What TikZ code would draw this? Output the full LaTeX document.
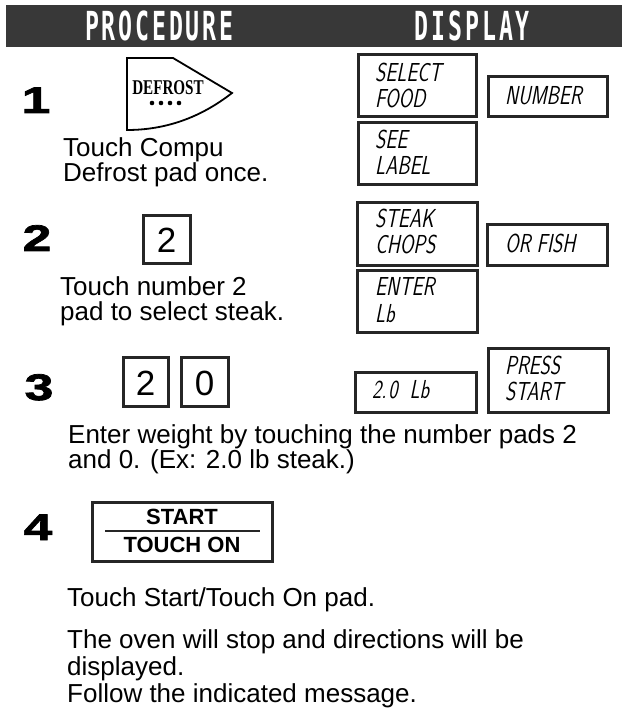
\documentclass[tikz,border=0pt]{standalone}
\usepackage{fontspec}
\setmainfont{Liberation Sans}
\newfontfamily\hdrfont[FakeStretch=0.58]{DejaVu Sans Mono}
\newfontfamily\numfont[FakeStretch=1.4,FakeBold=2]{Liberation Sans}
\newfontfamily\padserif[FakeStretch=0.72]{Liberation Serif}
\newfontfamily\lcdfont[FakeStretch=0.75,FakeSlant=0.2]{Latin Modern Sans}
\begin{document}
\begin{tikzpicture}[x=1pt,y=-1pt,
  hdr/.style={anchor=base,inner sep=0pt,text=white,font=\hdrfont\bfseries\fontsize{40}{40}\selectfont},
  stepnum/.style={anchor=base,inner sep=0pt,font=\numfont\bfseries\fontsize{37}{37}\selectfont},
  body/.style={anchor=base west,inner sep=0pt,font=\fontsize{26}{25}\selectfont},
  lcdbox/.style={draw=black!85,line width=3pt},
  lcdtxt/.style={anchor=base west,inner sep=0pt,font=\lcdfont\fontsize{26}{26}\selectfont},
  padbox/.style={draw=black!85,line width=3pt},
  paddigit/.style={anchor=base,inner sep=0pt,font=\fontsize{35}{35}\selectfont},
  startfont/.style={anchor=base,inner sep=0pt,font=\bfseries\fontsize{22}{22}\selectfont}
]
\useasboundingbox (0,0) rectangle (622,708);
\fill[white] (0,0) rectangle (622,708);
% header
\fill[black!78] (6,5) rectangle (622,47);
\foreach \c [count=\i] in {P,R,O,C,E,D,U,R,E}
  \node[hdr] (hp\i) at ({92+(\i-1)*16.8},41) {\c};
\foreach \c [count=\i] in {D,I,S,P,L,A,Y}
  \node[hdr] (hd\i) at ({421.5+(\i-1)*16.9},41) {\c};

% step numbers
\node[stepnum] (n1) at (36,113) {1};
\node[stepnum] (n2) at (37,251) {2};
\node[stepnum] (n3) at (39,400) {3};
\node[stepnum] (n4) at (38,540) {4};

% step 1 pad
\draw[line width=1.8pt,line join=miter] (127,58) -- (173,58) -- (232,93)
   .. controls (200,118) and (165,130) .. (127,130) -- cycle;
\node[anchor=base,inner sep=0pt,font=\padserif\bfseries\fontsize{21}{21}\selectfont] (defrost) at (168,95) {DEFROST};
\foreach \i in {0,1,2,3} \fill (152+\i*9,103) circle (2.3);
\node[body] (t1a) at (63,157) {Touch Compu};
\node[body] (t1b) at (63,182) {Defrost pad once.};

% step 1 display
\draw[lcdbox] (358,55) rectangle (476,117);
\node[lcdtxt] (d1a) at (375,82) {SELECT};
\node[lcdtxt] (d1b) at (375,108) {FOOD};
\draw[lcdbox] (488,77) rectangle (607,117);
\node[lcdtxt] (d2) at (505,105) {NUMBER};
\draw[lcdbox] (358,123) rectangle (476,185);
\node[lcdtxt] (d3a) at (375,149) {SEE};
\node[lcdtxt] (d3b) at (375,175) {LABEL};

% step 2
\draw[padbox] (143,216) rectangle (190,263);
\node[paddigit] (p2) at (166.5,252) {2};
\node[body] (t2a) at (60,295) {Touch number 2};
\node[body] (t2b) at (60,320) {pad to select steak.};
\draw[lcdbox] (357,203) rectangle (477,265);
\node[lcdtxt] (d4a) at (375,228) {STEAK};
\node[lcdtxt] (d4b) at (375,254) {CHOPS};
\draw[lcdbox] (487,225) rectangle (607,265);
\node[lcdtxt] (d5) at (505,252) {OR FISH};
\draw[lcdbox] (357,270) rectangle (477,332);
\node[lcdtxt] (d6a) at (375,295) {ENTER};
\node[lcdtxt] (d6b) at (375,322) {Lb};

% step 3
\draw[padbox] (123,357) rectangle (168,406);
\node[paddigit] (p3a) at (145.5,395) {2};
\draw[padbox] (181,357) rectangle (228,406);
\node[paddigit] (p3b) at (204.5,395) {0};
\draw[lcdbox] (355,372) rectangle (476,412);
\node[lcdtxt] (d7) at (372,398) {2.\kern2pt0\hspace{12pt}Lb};
\draw[lcdbox] (488,348) rectangle (608,412);
\node[lcdtxt] (d8a) at (505,374) {PRESS};
\node[lcdtxt] (d8b) at (505,400) {START};
\node[body] (t3a) at (68,443) {Enter weight by touching the number pads 2};
\node[body] (t3b) at (68,468) {and 0. (Ex: 2.0 lb steak.)};

% step 4
\draw[padbox] (92,502) rectangle (272,561);
\draw[line width=2pt,black!85] (105,531) -- (260,531);
\node[startfont] (s1) at (182,524) {START};
\node[startfont] (s2) at (182,552) {TOUCH ON};
\node[body] (t4a) at (67,606) {Touch Start/Touch On pad.};
\node[body] (t4b) at (67,648) {The oven will stop and directions will be};
\node[body] (t4c) at (67,675) {displayed.};
\node[body] (t4d) at (67,702) {Follow the indicated message.};
\end{tikzpicture}
\end{document}
